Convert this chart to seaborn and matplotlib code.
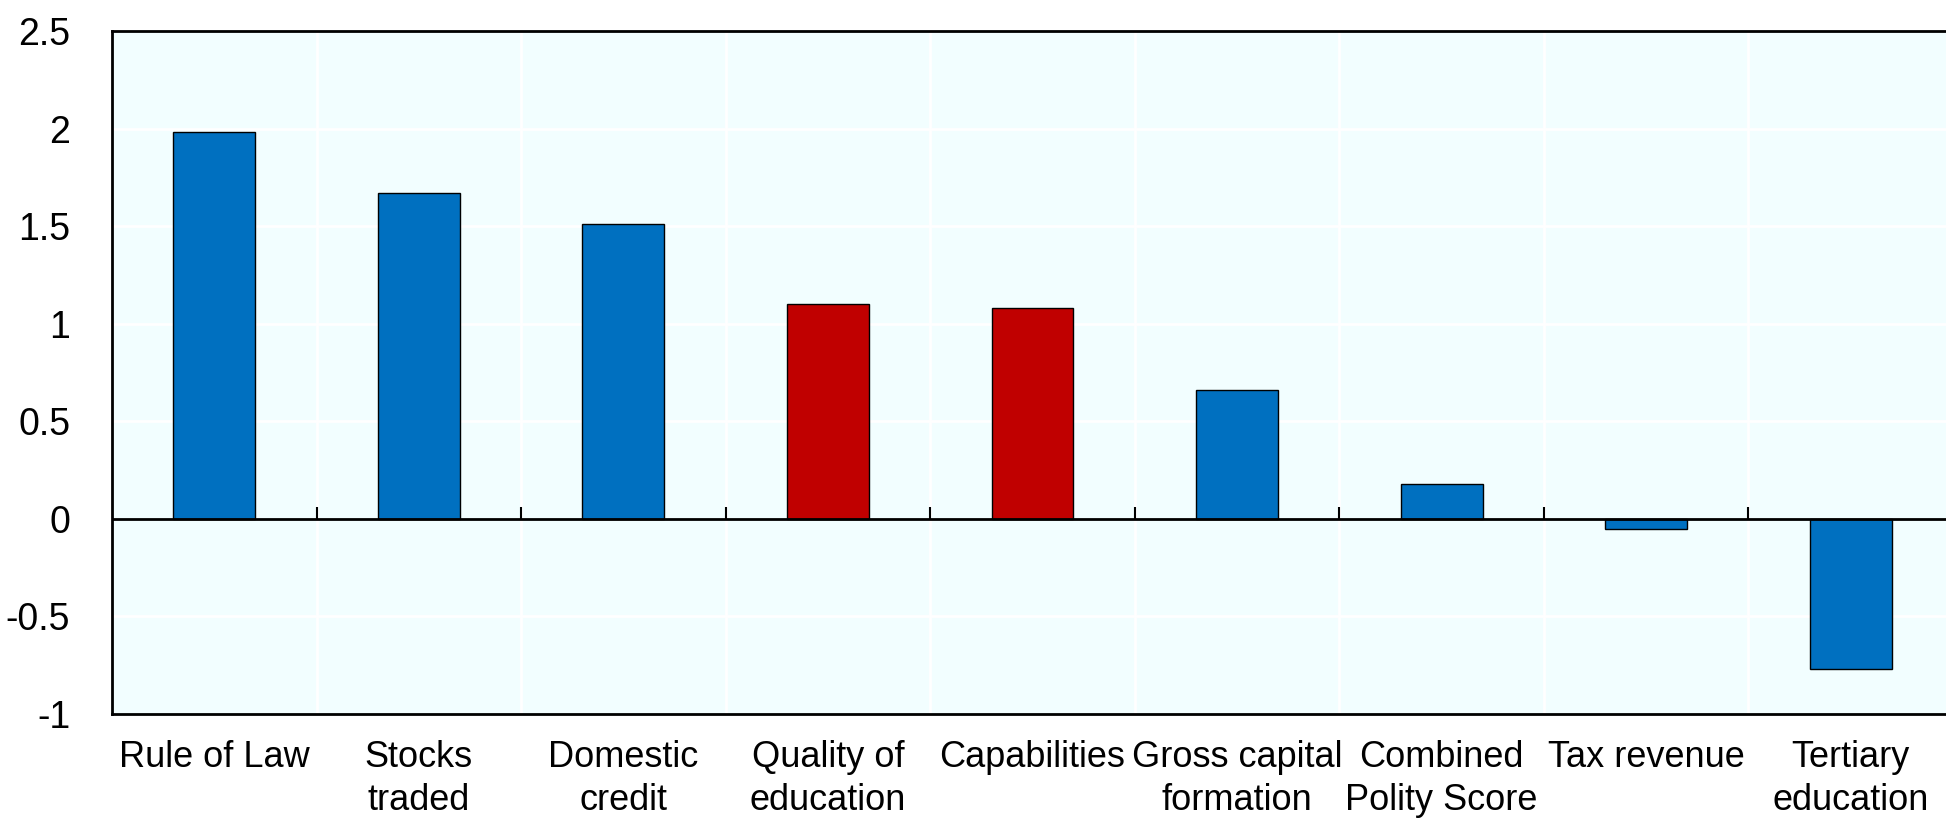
import numpy as np
import pandas as pd
import matplotlib
matplotlib.use("Agg")
import matplotlib.pyplot as plt
import seaborn as sns
from matplotlib.ticker import FuncFormatter

# Data
categories = ["Rule of Law", "Stocks\ntraded", "Domestic\ncredit", "Quality of\neducation",
              "Capabilities", "Gross capital\nformation", "Combined\nPolity Score",
              "Tax revenue", "Tertiary\neducation"]
values = [1.98, 1.67, 1.51, 1.10, 1.08, 0.66, 0.18, -0.05, -0.77]
groups = ["other", "other", "other", "highlight", "highlight", "other", "other", "other", "other"]

BLUE = "#0070C0"
RED = "#C00000"
BG = "#F2FEFF"

sns.set_style("white")
plt.rcParams["font.family"] = ["Liberation Sans", "DejaVu Sans"]
plt.rcParams["text.color"] = "black"
plt.rcParams["xtick.color"] = "black"
plt.rcParams["ytick.color"] = "black"

df = pd.DataFrame({"category": categories, "value": values, "group": groups})

fig = plt.figure(figsize=(19.46, 8.23), dpi=100)
# axes spans a little past the right edge, as in the reference
ax = fig.add_axes([112 / 1946, 1 - 714 / 823, 1841 / 1946, (714 - 31) / 823])
ax.set_facecolor(BG)

sns.barplot(data=df, x="category", y="value", hue="group",
            palette={"other": BLUE, "highlight": RED}, saturation=1,
            width=0.4, edgecolor="black", linewidth=1.0,
            legend=False, ax=ax, zorder=3)

n = len(categories)
ax.set_xlim(-0.5, n - 0.5)
ax.set_ylim(-1, 2.5)
ax.set_yticks(np.arange(-1, 2.51, 0.5))
ax.yaxis.set_major_formatter(FuncFormatter(lambda v, p: f"{v:g}"))

# white grid at y ticks and category boundaries
bounds = np.arange(0.5, n - 0.5, 1)
for y in np.arange(-0.5, 2.5, 0.5):
    ax.axhline(y, color="white", lw=2, zorder=1)
for b in bounds:
    ax.axvline(b, color="white", lw=2, zorder=1)

# zero line with upward category-boundary ticks
ax.axhline(0, color="black", lw=2, zorder=4)
ax.vlines(bounds, 0, 0.06, color="black", lw=1.5, zorder=4)

ax.set_xlabel("")
ax.set_ylabel("")
ax.tick_params(axis="x", length=0, pad=19, labelsize=26, labelcolor="black")
ax.tick_params(axis="y", direction="in", length=10, width=1.5, pad=30, labelsize=27,
               labelcolor="black")
for lab in ax.get_xticklabels():
    lab.set_linespacing(1.3)

for side in ["left", "top", "bottom"]:
    ax.spines[side].set_visible(True)
    ax.spines[side].set_color("black")
    ax.spines[side].set_linewidth(2)
ax.spines["right"].set_visible(False)

fig.savefig("out.png", dpi=100, facecolor="white")
